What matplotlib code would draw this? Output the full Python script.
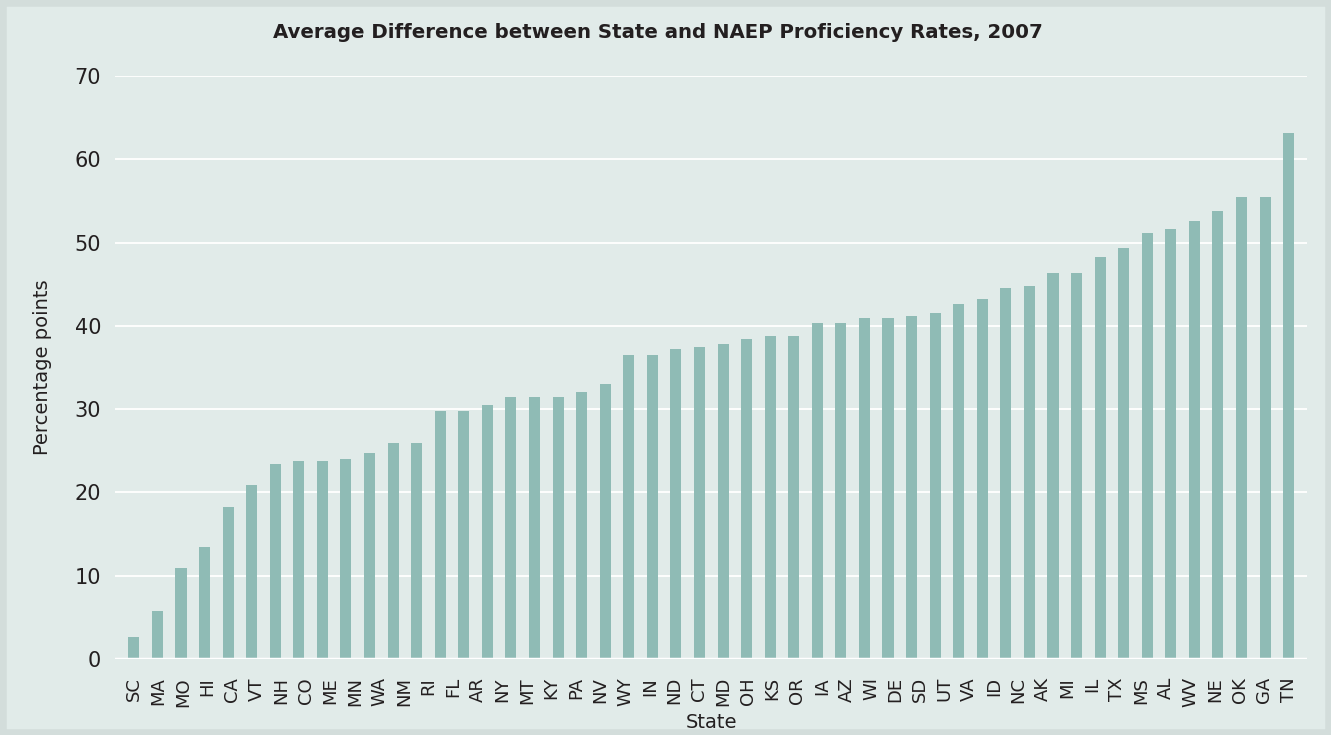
import matplotlib.pyplot as plt
import matplotlib.patches as mpatches
import numpy as np

states = ['SC', 'MA', 'MO', 'HI', 'CA', 'VT', 'NH', 'CO', 'ME', 'MN', 'WA', 'NM',
          'RI', 'FL', 'AR', 'NY', 'MT', 'KY', 'PA', 'NV', 'WY', 'IN', 'ND', 'CT',
          'MD', 'OH', 'KS', 'OR', 'IA', 'AZ', 'WI', 'DE', 'SD', 'UT', 'VA', 'ID',
          'NC', 'AK', 'MI', 'IL', 'TX', 'MS', 'AL', 'WV', 'NE', 'OK', 'GA', 'TN']

# 50 bars in the picture, 48 labels spread evenly underneath
values = [2.6, 5.8, 10.9, 13.4, 18.2, 20.9, 23.4, 23.8, 23.8, 24.0,
          24.7, 25.9, 25.9, 29.8, 29.8, 30.5, 31.5, 31.5, 31.5, 32.1,
          33.0, 36.5, 36.5, 37.2, 37.5, 37.8, 38.4, 38.8, 38.8, 40.3,
          40.3, 41.0, 41.0, 41.2, 41.6, 42.6, 43.2, 44.5, 44.8, 46.4,
          46.4, 48.3, 49.3, 51.2, 51.6, 52.6, 53.8, 55.5, 55.5, 63.2]

yticks = [0, 10, 20, 30, 40, 50, 60, 70]

bg = '#e1ebe9'
bar_color = '#8fbbb5'
txt = '#231f20'

plt.rcParams['font.family'] = ['DejaVu Sans']

fig = plt.figure(figsize=(13.31, 7.35), dpi=100, facecolor=bg)
# darker frame round the panel
fig.patches.append(mpatches.Rectangle((0, 0), 1, 1, transform=fig.transFigure,
                                      fill=False, edgecolor='#d3dddb', linewidth=9))
ax = fig.add_axes([0.0864, 0.1034, 0.8956, 0.7932])
ax.set_facecolor(bg)

x = np.arange(len(values))
ax.bar(x, values, width=0.47, color=bar_color, zorder=3)

ax.set_ylim(0, 70)
ax.set_xlim(-0.8, len(values) - 1 + 0.78)
ax.set_yticks(yticks)
for t in yticks[1:]:
    ax.axhline(t, color='white', linewidth=1.3, zorder=1)
ax.axhline(0, color='white', linewidth=2.5, zorder=4)

ax.set_xticks(np.linspace(0, len(values) - 1, len(states)))
ax.set_xticklabels(states, rotation=90, fontsize=13, color=txt)
ax.tick_params(axis='x', length=0, pad=13)
ax.tick_params(axis='y', length=0, pad=10, labelsize=15, labelcolor=txt)

for s in ax.spines.values():
    s.set_visible(False)

fig.text(0.494, 1 - 32 / 735, 'Average Difference between State and NAEP Proficiency Rates, 2007',
         fontsize=14.2, fontweight='bold', color=txt, ha='center', va='center')
ax.set_xlabel('State', fontsize=14, color=txt, labelpad=4)
ax.set_ylabel('Percentage points', fontsize=14, color=txt, labelpad=16)

fig.savefig('out.png', dpi=100, facecolor=bg)
